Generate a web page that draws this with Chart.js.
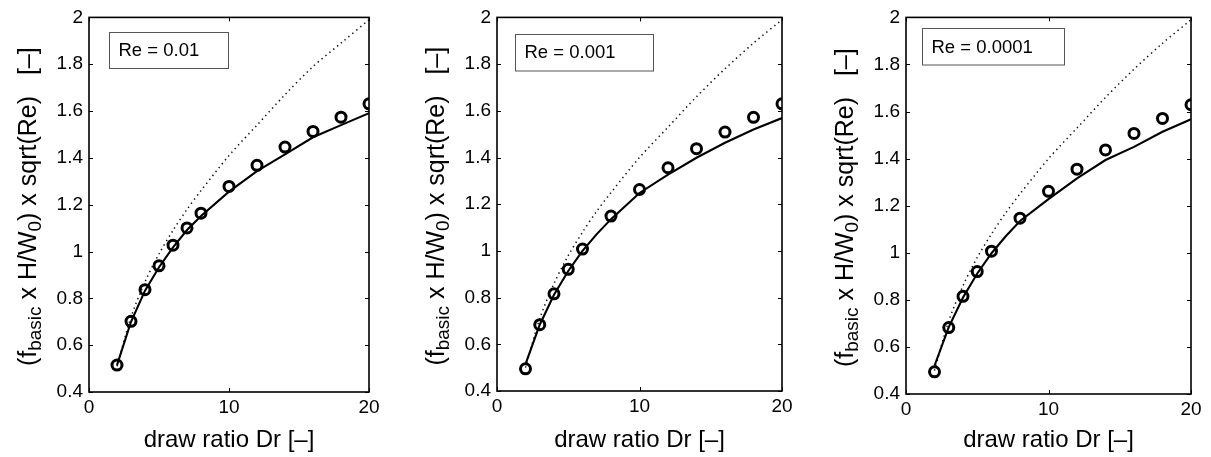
<!DOCTYPE html>
<html>
<head>
<meta charset="utf-8">
<script src="https://cdn.jsdelivr.net/npm/chart.js@4.4.0/dist/chart.umd.min.js"></script>
<style>
  body { margin: 0; background: #fff; width: 1211px; height: 457px; position: relative; overflow: hidden; }
  .panel { position: absolute; top: 0; height: 457px; }
</style>
</head>
<body>
<div class="panel" style="left:0px;width:389px"><canvas id="c1"></canvas></div>
<div class="panel" style="left:408px;width:394px"><canvas id="c2"></canvas></div>
<div class="panel" style="left:817px;width:394px"><canvas id="c3"></canvas></div>
<script>
// draw ratio values (x) shared by all three panels
const drawRatio = [2, 3, 4, 5, 6, 7, 8, 10, 12, 14, 16, 18, 20];
const reLabels = ['Re = 0.01', 'Re = 0.001', 'Re = 0.0001'];
const xTicks = [0, 10, 20];
const yTicks = [0.4, 0.6, 0.8, 1, 1.2, 1.4, 1.6, 1.8, 2];

// circles
const measured1 = [0.515, 0.702, 0.837, 0.939, 1.027, 1.101, 1.164, 1.278, 1.368, 1.446, 1.513, 1.574, 1.631];
const measured2 = [0.495, 0.684, 0.816, 0.921, 1.008, null, 1.149, 1.263, 1.356, 1.438, 1.509, 1.572, 1.630];
const measured3 = [0.494, 0.682, 0.815, 0.920, 1.007, null, 1.147, 1.261, 1.355, 1.437, 1.507, 1.571, 1.629];
// solid lines
const model1 = [0.515, 0.700, 0.833, 0.933, 1.018, 1.092, 1.152, 1.256, 1.343, 1.415, 1.488, 1.540, 1.591];
const model2 = [0.515, 0.684, 0.812, 0.914, 1.000, 1.072, 1.136, 1.248, 1.327, 1.399, 1.463, 1.520, 1.569];
const model3 = [0.520, 0.684, 0.810, 0.912, 0.998, 1.070, 1.135, 1.228, 1.316, 1.394, 1.450, 1.514, 1.567];
// dotted lines
const upper1 = [0.51, 0.72, 0.87, 0.99, 1.09, 1.18, 1.26, 1.41, 1.54, 1.67, 1.79, 1.89, 1.99];
const upper2 = [0.50, 0.71, 0.86, 0.98, 1.08, 1.17, 1.25, 1.40, 1.53, 1.66, 1.78, 1.89, 1.99];
const upper3 = [0.50, 0.71, 0.86, 0.98, 1.08, 1.17, 1.25, 1.40, 1.53, 1.66, 1.78, 1.89, 1.99];

const FONT = '"Liberation Sans", Arial, Helvetica, sans-serif';

const panels = [
  { id: 'c1', label: reLabels[0], measured: measured1, model: model1, upper: upper1,
    top: 16, xH: 65, box: { dx: 20, dy: 15, w: 119, h: 36 } },
  { id: 'c2', label: reLabels[1], measured: measured2, model: model2, upper: upper2,
    top: 16, xH: 66, box: { dx: 18, dy: 16.5, w: 138, h: 36.5 } },
  { id: 'c3', label: reLabels[2], measured: measured3, model: model3, upper: upper3,
    top: 17, xH: 63, box: { dx: 16, dy: 11, w: 142, h: 36.5 } }
];

function pts(ys) {
  return drawRatio.map((x, i) => ({ x: x, y: ys[i] })).filter(p => p.y !== null);
}

// frame + inward tick marks on all four sides
const framePlugin = {
  id: 'frame',
  afterDraw(chart) {
    const { ctx, chartArea: a, scales } = chart;
    ctx.save();
    ctx.strokeStyle = '#000';
    ctx.lineWidth = 1.6;
    ctx.strokeRect(a.left, a.top, a.right - a.left, a.bottom - a.top);
    ctx.lineWidth = 1;
    ctx.beginPath();
    xTicks.forEach(v => {
      const px = Math.round(scales.x.getPixelForValue(v)) + 0.5;
      ctx.moveTo(px, a.bottom); ctx.lineTo(px, a.bottom - 4);
      ctx.moveTo(px, a.top); ctx.lineTo(px, a.top + 4);
    });
    yTicks.forEach(v => {
      const py = Math.round(scales.y.getPixelForValue(v)) + 0.5;
      ctx.moveTo(a.left, py); ctx.lineTo(a.left + 4, py);
      ctx.moveTo(a.right, py); ctx.lineTo(a.right - 4, py);
    });
    ctx.stroke();
    ctx.restore();
  }
};

// y title with subscripts
const yTitlePlugin = {
  id: 'ytitle',
  afterDraw(chart) {
    const { ctx, chartArea: a } = chart;
    const parts = [['(f', 0], ['basic', 1], [' x H/W', 0], ['0', 1], [') x sqrt(Re)   [\u2013]', 0]];
    const big = '25px ' + FONT, small = '19px ' + FONT;
    ctx.save();
    let total = 0;
    parts.forEach(p => { ctx.font = p[1] ? small : big; total += ctx.measureText(p[0]).width; });
    ctx.translate(a.left - 53, (a.top + a.bottom) / 2 + 2);
    ctx.rotate(-Math.PI / 2);
    ctx.fillStyle = '#000';
    ctx.textBaseline = 'alphabetic';
    let x = -total / 2;
    parts.forEach(p => {
      ctx.font = p[1] ? small : big;
      ctx.fillText(p[0], x, p[1] ? 5 : 0);
      x += ctx.measureText(p[0]).width;
    });
    ctx.restore();
  }
};

// "Re = ..." box
const boxPlugin = {
  id: 'rebox',
  afterDraw(chart, args, opts) {
    const { ctx, chartArea: a } = chart;
    const b = opts.box;
    const x = a.left + b.dx, y = a.top + b.dy;
    ctx.save();
    ctx.fillStyle = '#fff';
    ctx.fillRect(x, y, b.w, b.h);
    ctx.strokeStyle = '#555';
    ctx.lineWidth = 1;
    ctx.strokeRect(Math.round(x) + 0.5, Math.round(y) + 0.5, b.w, b.h);
    ctx.fillStyle = '#000';
    ctx.font = '18.5px ' + FONT;
    ctx.textBaseline = 'middle';
    ctx.fillText(opts.text, x + 9.5, y + b.h / 2 + 1);
    ctx.restore();
  }
};

panels.forEach(p => {
  new Chart(document.getElementById(p.id), {
    type: 'scatter',
    data: {
      datasets: [
        { data: pts(p.measured), showLine: false, pointStyle: 'circle', pointRadius: 5,
          pointBorderWidth: 3, borderColor: '#000', backgroundColor: 'rgba(0,0,0,0)' },
        { data: pts(p.model), showLine: true, borderColor: '#000', borderWidth: 2.1,
          pointRadius: 0, tension: 0 },
        { data: pts(p.upper), showLine: true, borderColor: '#111', borderWidth: 1.5,
          borderDash: [1.4, 3.6], pointRadius: 0, tension: 0.3 }
      ]
    },
    options: {
      responsive: true,
      maintainAspectRatio: false,
      animation: false,
      events: [],
      layout: { padding: { left: 0, right: 20, top: p.top, bottom: 0 } },
      plugins: {
        legend: { display: false },
        tooltip: { enabled: false },
        rebox: { box: p.box, text: p.label }
      },
      scales: {
        x: {
          type: 'linear', min: 0, max: 20,
          afterBuildTicks: s => { s.ticks = xTicks.map(v => ({ value: v })); },
          afterFit: s => { s.height = p.xH; },
          grid: { display: false, drawTicks: false },
          border: { display: false },
          ticks: { color: '#000', font: { family: FONT, size: 19 }, padding: 4, maxRotation: 0 },
          title: { display: true, text: 'draw ratio Dr [\u2013]', color: '#000',
                   font: { family: FONT, size: 24 }, padding: { top: 0, bottom: 2 } }
        },
        y: {
          type: 'linear', min: 0.4, max: 2,
          afterBuildTicks: s => { s.ticks = yTicks.map(v => ({ value: v })); },
          afterFit: s => { s.width = 89; },
          grid: { display: false, drawTicks: false },
          border: { display: false },
          ticks: { color: '#000', font: { family: FONT, size: 19 }, padding: 6,
                   callback: v => String(+v.toFixed(1)) }
        }
      }
    },
    plugins: [framePlugin, yTitlePlugin, boxPlugin]
  });
});
</script>
</body>
</html>
